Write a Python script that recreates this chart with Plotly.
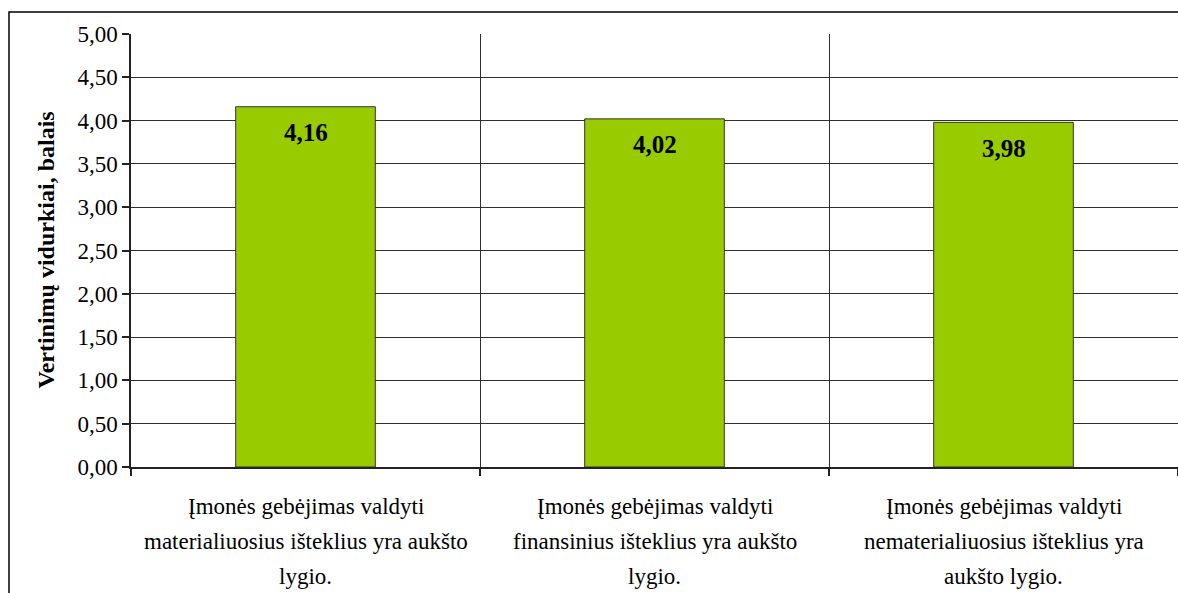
import plotly.graph_objects as go

# Average ratings of the company's resource-management abilities
category_lines = [
    ["Įmonės gebėjimas valdyti", "materialiuosius išteklius yra aukšto", "lygio."],
    ["Įmonės gebėjimas valdyti", "finansinius išteklius yra aukšto", "lygio."],
    ["Įmonės gebėjimas valdyti", "nematerialiuosius išteklius yra", "aukšto lygio."],
]
mean_scores = [4.16, 4.02, 3.98]
y_ticks = [0, 0.5, 1, 1.5, 2, 2.5, 3, 3.5, 4, 4.5, 5]
y_title = "Vertinimų vidurkiai, balais"

W, H = 1178, 593
ML, MR, MT, MB = 131, 0, 34, 126
SERIF = "Liberation Serif"
GRID = "#2e2e2e"

positions = list(range(len(mean_scores)))

fig = go.Figure()
fig.add_trace(go.Bar(
    x=positions,
    y=mean_scores,
    width=0.4,
    marker=dict(color="#99CC00", line=dict(color="#333333", width=1)),
    hoverinfo="skip",
))

annotations = []
# value labels just below the top of each bar
for i, v in zip(positions, mean_scores):
    annotations.append(dict(
        x=i, y=v, xref="x", yref="y",
        text="<b>" + f"{v:.2f}".replace(".", ",") + "</b>",
        showarrow=False, xanchor="center", yanchor="middle", yshift=-26,
        font=dict(family=SERIF, size=25, color="black"),
    ))

# category labels, one annotation per text line
for i, lines in zip(positions, category_lines):
    for j, line in enumerate(lines):
        annotations.append(dict(
            x=i, y=0, xref="x", yref="y", text=line, showarrow=False,
            xanchor="center", yanchor="middle", yshift=-(39 + 35 * j),
            font=dict(family=SERIF, size=23, color="black"),
        ))

plot_w = W - ML - MR
plot_h = H - MT - MB
annotations.append(dict(
    x=0, y=0.5, xref="paper", yref="paper", text="<b>" + y_title + "</b>",
    showarrow=False, textangle=-90, xanchor="center", yanchor="middle",
    xshift=-(ML - 45), font=dict(family=SERIF, size=24, color="black"),
))

# outer chart frame (left and top edges visible)
shapes = [dict(
    type="rect", xref="paper", yref="paper", layer="above",
    x0=(9 - ML) / plot_w, x1=1.05,
    y0=-0.5, y1=1 + (MT - 12) / plot_h,
    line=dict(color="black", width=1.5), fillcolor="rgba(0,0,0,0)",
)]

fig.update_layout(
    width=W, height=H,
    margin=dict(l=ML, r=MR, t=MT, b=MB),
    paper_bgcolor="white", plot_bgcolor="white",
    font=dict(family=SERIF, color="black"),
    separators=",.",
    showlegend=False,
    annotations=annotations,
    shapes=shapes,
    xaxis=dict(
        range=[-0.5, len(mean_scores) - 0.5],
        tickvals=positions, ticktext=[""] * len(positions),
        showgrid=False, ticks="",
        showline=True, linecolor="#222222", linewidth=1.5,
        zeroline=False,
        minor=dict(
            tickvals=[p - 0.5 for p in positions] + [positions[-1] + 0.5],
            showgrid=True, gridcolor=GRID, gridwidth=1,
            ticks="outside", ticklen=7, tickcolor="#222222", tickwidth=1.5,
        ),
    ),
    yaxis=dict(
        range=[0, 5],
        tickvals=y_ticks, tickformat=".2f",
        tickfont=dict(family=SERIF, size=23, color="black"),
        showgrid=True, gridcolor=GRID, gridwidth=1,
        ticks="outside", ticklen=7, tickcolor="#222222", tickwidth=1.5,
        showline=True, linecolor="#222222", linewidth=1.5,
        zeroline=False,
    ),
    bargap=0.6,
)

fig.write_html("out.html")
